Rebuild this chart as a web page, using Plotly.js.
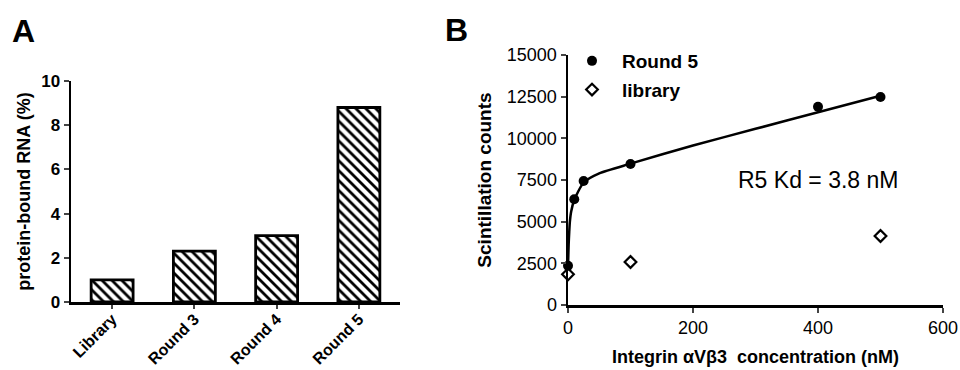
<!DOCTYPE html>
<html>
<head>
<meta charset="utf-8">
<script src="https://cdn.plot.ly/plotly-3.0.1.min.js"></script>
<style>html,body{margin:0;padding:0;background:#fff}#chart{width:960px;height:370px}</style>
</head>
<body>
<div id="chart"></div>
<script>
// Panel A data
const roundCategories = ["Library", "Round 3", "Round 4", "Round 5"];
const boundRNA = [1.0, 2.3, 3.0, 8.8];

// Panel B data
const round5Conc = [0, 10, 25, 100, 400, 500];
const round5Counts = [2350, 6340, 7440, 8460, 11900, 12480];
const libraryConc = [0, 100, 500];
const libraryCounts = [1840, 2580, 4140];
// fitted curve
const fitConc = [0, 1, 2, 3, 5, 10, 25, 50, 100, 200, 300, 400, 500];
const fitCounts = [2300, 3600, 4400, 5000, 5600, 6300, 7350, 7900, 8480, 9570, 10570, 11560, 12550];

const F = "Arial, 'Liberation Sans', sans-serif";
const bold = (s, c) => ({family: F, size: s, color: c || "#000", weight: "bold"});
const norm = (s) => ({family: F, size: s, color: "#000"});

const traces = [
  {
    type: "bar", x: roundCategories, y: boundRNA, xaxis: "x", yaxis: "y",
    width: 0.51, showlegend: false,
    marker: {color: "white", line: {color: "black", width: 2.8},
      pattern: {shape: "\\", fgcolor: "black", bgcolor: "white", size: 7, solidity: 0.4}}
  },
  {
    type: "scatter", mode: "lines", x: fitConc, y: fitCounts, xaxis: "x2", yaxis: "y2",
    line: {color: "black", width: 2.5, shape: "spline", smoothing: 0.6}, showlegend: false, cliponaxis: false
  },
  {
    type: "scatter", mode: "markers", name: "Round 5", x: round5Conc, y: round5Counts,
    xaxis: "x2", yaxis: "y2", cliponaxis: false, legendgroup: "r5",
    marker: {symbol: "circle", size: 10, color: "black"}
  },
  {
    type: "scatter", mode: "markers", name: "library", x: libraryConc, y: libraryCounts,
    xaxis: "x2", yaxis: "y2", cliponaxis: false, legendgroup: "lib",
    marker: {symbol: "diamond-open", size: 9, color: "black", line: {width: 2.2}}
  }
];

const layout = {
  width: 960, height: 370,
  margin: {l: 0, r: 0, t: 0, b: 0},
  paper_bgcolor: "white", plot_bgcolor: "white",
  font: {family: F, color: "#000"},
  xaxis: {
    domain: [71/960, 400/960], type: "category", range: [-0.5, 3.5],
    showline: true, linewidth: 2.5, linecolor: "black", ticks: "outside", ticklen: 4, tickwidth: 2,
    tickangle: -45, tickfont: bold(16), ticklabelstandoff: -5, showgrid: false, zeroline: false, anchor: "y"
  },
  yaxis: {
    domain: [68/370, 289/370], range: [0, 10], dtick: 2,
    showline: true, linewidth: 2.5, linecolor: "black", ticks: "outside", ticklen: 5, tickwidth: 2,
    tickfont: bold(17), showgrid: false, zeroline: false, anchor: "x",
    title: {text: "protein-bound RNA (%)", font: bold(18), standoff: 6}
  },
  xaxis2: {
    domain: [568/960, 943/960], range: [0, 600], tickvals: [0, 200, 400, 600],
    showline: true, linewidth: 2.5, linecolor: "black", ticks: "outside", ticklen: 5, tickwidth: 2,
    tickfont: norm(18), showgrid: false, zeroline: false, anchor: "y2",
    title: {text: "Integrin αVβ3  concentration (nM)", font: bold(18), standoff: 14}
  },
  yaxis2: {
    domain: [65/370, 315/370], range: [0, 15000], tickvals: [0, 2500, 5000, 7500, 10000, 12500, 15000],
    tickformat: "d",
    showline: true, linewidth: 2.5, linecolor: "black", ticks: "outside", ticklen: 5, tickwidth: 2,
    tickfont: norm(18), showgrid: false, zeroline: false, anchor: "x2",
    title: {text: "Scintillation counts", font: bold(19), standoff: 10}
  },
  showlegend: true,
  legend: {
    x: 562/960, y: 1 - 42/370, xanchor: "left", yanchor: "top",
    font: bold(19), bgcolor: "rgba(0,0,0,0)", tracegroupgap: 1, itemwidth: 50
  },
  annotations: [
    {text: "A", xref: "paper", yref: "paper", x: 23/960, y: 1 - 31/370, xanchor: "center", yanchor: "middle",
     showarrow: false, font: bold(32)},
    {text: "B", xref: "paper", yref: "paper", x: 456/960, y: 1 - 30/370, xanchor: "center", yanchor: "middle",
     showarrow: false, font: bold(32)},
    {text: "R5 Kd = 3.8 nM", xref: "paper", yref: "paper", x: 818/960, y: 1 - 180/370, xanchor: "center", yanchor: "middle",
     showarrow: false, font: norm(23)}
  ]
};

Plotly.newPlot("chart", traces, layout, {staticPlot: true, displayModeBar: false});
</script>
</body>
</html>
